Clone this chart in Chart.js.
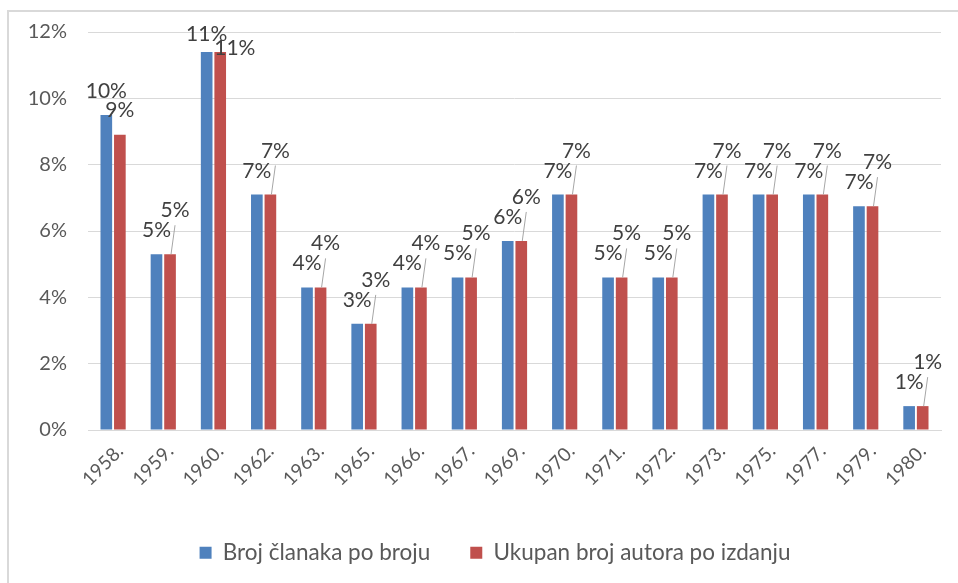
<!DOCTYPE html>
<html>
<head>
<meta charset="utf-8">
<script src="https://cdn.jsdelivr.net/npm/chart.js@4.4.1/dist/chart.umd.min.js"></script>
<style>
  html, body { margin: 0; padding: 0; background: #fff; overflow: hidden; }
  #box {
    position: absolute; left: 7px; top: 10px; width: 960px; height: 580px;
    border-top: 2px solid #d9d9d9; border-left: 2px solid #d9d9d9;
  }
  canvas { display: block; }
</style>
</head>
<body>
<div id="box"><canvas id="chart" width="949" height="571"></canvas></div>
<script>
const years = ['1958.', '1959.', '1960.', '1962.', '1963.', '1965.', '1966.', '1967.', '1969.',
  '1970.', '1971.', '1972.', '1973.', '1975.', '1977.', '1979.', '1980.'];
const clanci = [9.5, 5.3, 11.4, 7.1, 4.3, 3.2, 4.3, 4.6, 5.7, 7.1, 4.6, 4.6, 7.1, 7.1, 7.1, 6.75, 0.72];
const autori = [8.9, 5.3, 11.4, 7.1, 4.3, 3.2, 4.3, 4.6, 5.7, 7.1, 4.6, 4.6, 7.1, 7.1, 7.1, 6.75, 0.72];
const yTicks = [0, 2, 4, 6, 8, 10, 12];

const FONT = 'Lato, "Open Sans", sans-serif';
Chart.defaults.font.family = FONT;
Chart.defaults.color = '#595959';

// data labels the way Excel places them, red one pushed up with a leader line
const barLabels = {
  id: 'barLabels',
  afterLayout(chart) {
    // Excel's legend sits a bit right of centre
    chart.legend.left += 20;
    chart.legend.right += 20;
  },
  afterDatasetsDraw(chart) {
    const ctx = chart.ctx;
    const blue = chart.getDatasetMeta(0).data;
    const red = chart.getDatasetMeta(1).data;
    const h = 17;
    ctx.save();
    ctx.font = '21px ' + FONT;
    ctx.fillStyle = '#404040';
    ctx.strokeStyle = '#a6a6a6';
    ctx.lineWidth = 1;
    ctx.textBaseline = 'alphabetic';
    blue.forEach((b, i) => {
      const r = red[i];
      const bt = Math.round(clanci[i]) + '%';
      const rt = Math.round(autori[i]) + '%';
      const bBottom = Math.max(b.y - 17, 29);
      ctx.textAlign = 'center';
      ctx.fillText(bt, b.x, bBottom);

      let rBottom = r.y - 18;
      const overlap = rBottom > bBottom - h && rBottom - h < bBottom;
      if (!overlap) {
        ctx.fillText(rt, r.x, rBottom);
        return;
      }
      rBottom = bBottom - 20;
      if (rBottom - h < 2) {
        ctx.textAlign = 'left';
        ctx.fillText(rt, r.x - 6, r.y + 3);
        return;
      }
      const lx = r.x + 5;
      ctx.beginPath();
      ctx.moveTo(r.x + 1, r.y);
      ctx.lineTo(lx, rBottom + 8);
      ctx.stroke();
      ctx.fillText(rt, lx, rBottom);
    });
    ctx.restore();
  }
};

new Chart(document.getElementById('chart'), {
  type: 'bar',
  data: {
    labels: years,
    datasets: [
      {
        label: 'Broj članaka po broju',
        data: clanci,
        backgroundColor: '#4f81bd',
        categoryPercentage: 0.54,
        barPercentage: 0.86
      },
      {
        label: 'Ukupan broj autora po izdanju',
        data: autori,
        backgroundColor: '#c0504d',
        categoryPercentage: 0.54,
        barPercentage: 0.86
      }
    ]
  },
  options: {
    responsive: false,
    devicePixelRatio: 1,
    animation: false,
    layout: { padding: { top: 20, right: 17, bottom: 9, left: 0 } },
    plugins: {
      tooltip: { enabled: false },
      legend: {
        position: 'bottom',
        labels: {
          boxWidth: 12,
          boxHeight: 12,
          padding: 40,
          color: '#595959',
          font: { size: 22.5 }
        }
      }
    },
    scales: {
      x: {
        grid: { display: false, drawTicks: false },
        border: { color: '#d9d9d9' },
        ticks: {
          color: '#595959',
          font: { size: 19 },
          minRotation: 45,
          maxRotation: 45,
          padding: 10,
          labelOffset: 7
        },
        afterFit(scale) { scale.height = 71.5; }
      },
      y: {
        min: 0,
        max: 12,
        grid: { color: '#d9d9d9', drawTicks: false },
        border: { display: false },
        afterBuildTicks(scale) { scale.ticks = yTicks.map(v => ({ value: v })); },
        ticks: {
          color: '#595959',
          font: { size: 20 },
          padding: 21,
          callback: v => v + '%'
        },
        afterFit(scale) {
          scale.width = 79;
          scale.paddingTop = 0;
          scale.paddingBottom = 0;
        }
      }
    }
  },
  plugins: [barLabels]
});
</script>
</body>
</html>
